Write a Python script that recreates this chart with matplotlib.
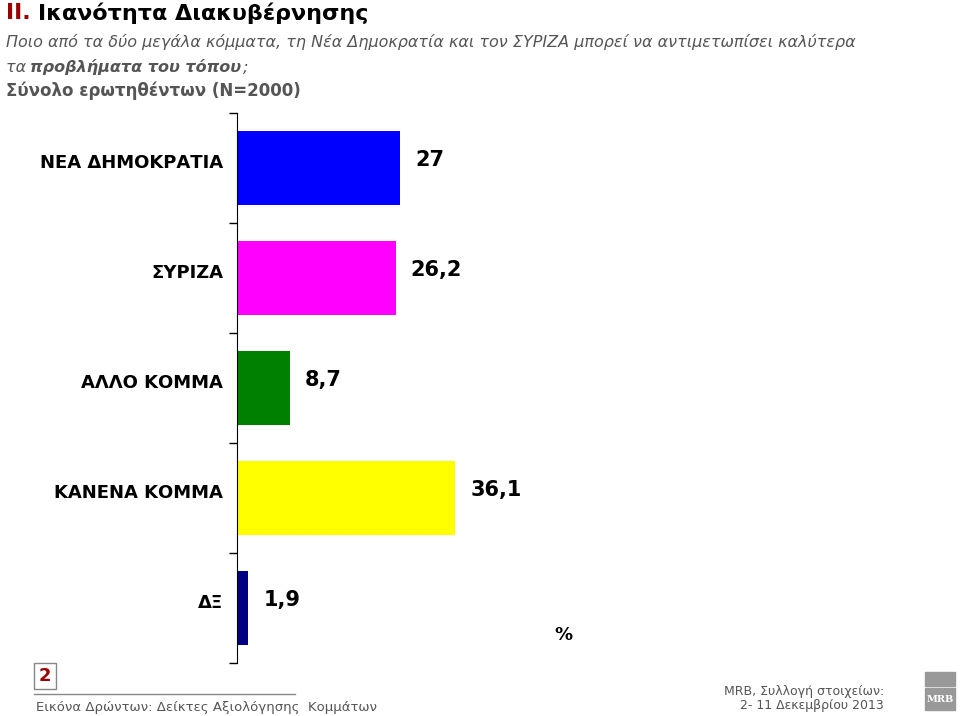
import matplotlib
matplotlib.use("Agg")
import matplotlib.pyplot as plt
from matplotlib.patches import Rectangle

categories = ["ΝΕΑ ΔΗΜΟΚΡΑΤΙΑ", "ΣΥΡΙΖΑ", "ΑΛΛΟ ΚΟΜΜΑ", "ΚΑΝΕΝΑ ΚΟΜΜΑ", "ΔΞ"]
values = [27, 26.2, 8.7, 36.1, 1.9]
labels = ["27", "26,2", "8,7", "36,1", "1,9"]
colors = ["#0000FF", "#FF00FF", "#008000", "#FFFF00", "#000080"]

W, H = 960, 716
fig = plt.figure(figsize=(9.6, 7.16), dpi=100)
fn = "DejaVu Sans"

ax = fig.add_axes([237/W, 1-663/H, 605/W, 550/H])
y = list(range(len(categories)))
ax.barh(y, values, height=0.67, color=colors)
ax.set_xlim(0, 100)
ax.set_ylim(len(categories)-0.5, -0.5)
for s in ["top", "right", "bottom"]:
    ax.spines[s].set_visible(False)
ax.spines["left"].set_color("black")
ax.set_xticks([])
ax.set_yticks([i-0.5 for i in range(len(categories)+1)])
ax.set_yticklabels([])
ax.tick_params(axis="y", direction="out", length=6, width=1)
for i, (c, v, l) in enumerate(zip(categories, values, labels)):
    ax.text(-2.3, i-0.05, c, ha="right", va="center", fontsize=13, fontweight="bold", family=fn)
    ax.text(v+2.5, i-0.07, l, ha="left", va="center", fontsize=15, fontweight="bold", family=fn)
ax.text(54, 4.25, "%", ha="center", va="center", fontsize=13, fontweight="bold", family=fn)

fig.text(6/W, 1-13/H, "II.", color="#9B0000", fontsize=16, fontweight="bold", va="center", family=fn)
fig.text(38/W, 1-13/H, "Ικανότητα Διακυβέρνησης", color="black", fontsize=16, fontweight="bold", va="center", family=fn)
fig.text(6/W, 1-42/H, "Ποιο από τα δύο μεγάλα κόμματα, τη Νέα Δημοκρατία και τον ΣΥΡΙΖΑ μπορεί να αντιμετωπίσει καλύτερα",
         color="#555555", fontsize=11.5, style="italic", va="center", family=fn)
fig.text(6/W, 1-67/H, "τα ", color="#555555", fontsize=11.5, style="italic", va="center", family=fn)
fig.text(30/W, 1-67/H, "προβλήματα του τόπου", color="#555555", fontsize=11.5, style="italic", fontweight="bold", va="center", family=fn)
fig.text(243/W, 1-67/H, ";", color="#555555", fontsize=11.5, style="italic", va="center", family=fn)
fig.text(6/W, 1-91/H, "Σύνολο ερωτηθέντων (N=2000)", color="#555555", fontsize=12, fontweight="bold", va="center", family=fn)

fig.patches.append(Rectangle((34/W, 1-689/H), 22/W, 26/H, transform=fig.transFigure, fill=False, edgecolor="#888888", lw=1))
fig.text(45/W, 1-676/H, "2", color="#9B0000", fontsize=13, fontweight="bold", ha="center", va="center", family=fn)
fig.add_artist(matplotlib.lines.Line2D([34/W, 295/W], [1-694/H, 1-694/H], color="#888888", lw=1))
fig.text(36/W, 1-708/H, "Εικόνα Δρώντων: Δείκτες Αξιολόγησης  Κομμάτων", color="#555555", fontsize=9.5, va="center", family=fn)
fig.text(884/W, 1-691/H, "MRB, Συλλογή στοιχείων:", color="#555555", fontsize=9, ha="right", va="center", family=fn)
fig.text(884/W, 1-705/H, "2- 11 Δεκεμβρίου 2013", color="#555555", fontsize=9, ha="right", va="center", family=fn)
fig.patches.append(Rectangle((925/W, 1-686/H), 30/W, 14/H, transform=fig.transFigure, color="#999999"))
fig.patches.append(Rectangle((925/W, 1-710/H), 30/W, 22/H, transform=fig.transFigure, color="#999999"))
fig.text(940/W, 1-699/H, "MRB", color="white", fontsize=7, fontweight="bold", ha="center", va="center", family="DejaVu Serif")

fig.savefig("out.png", dpi=100)
